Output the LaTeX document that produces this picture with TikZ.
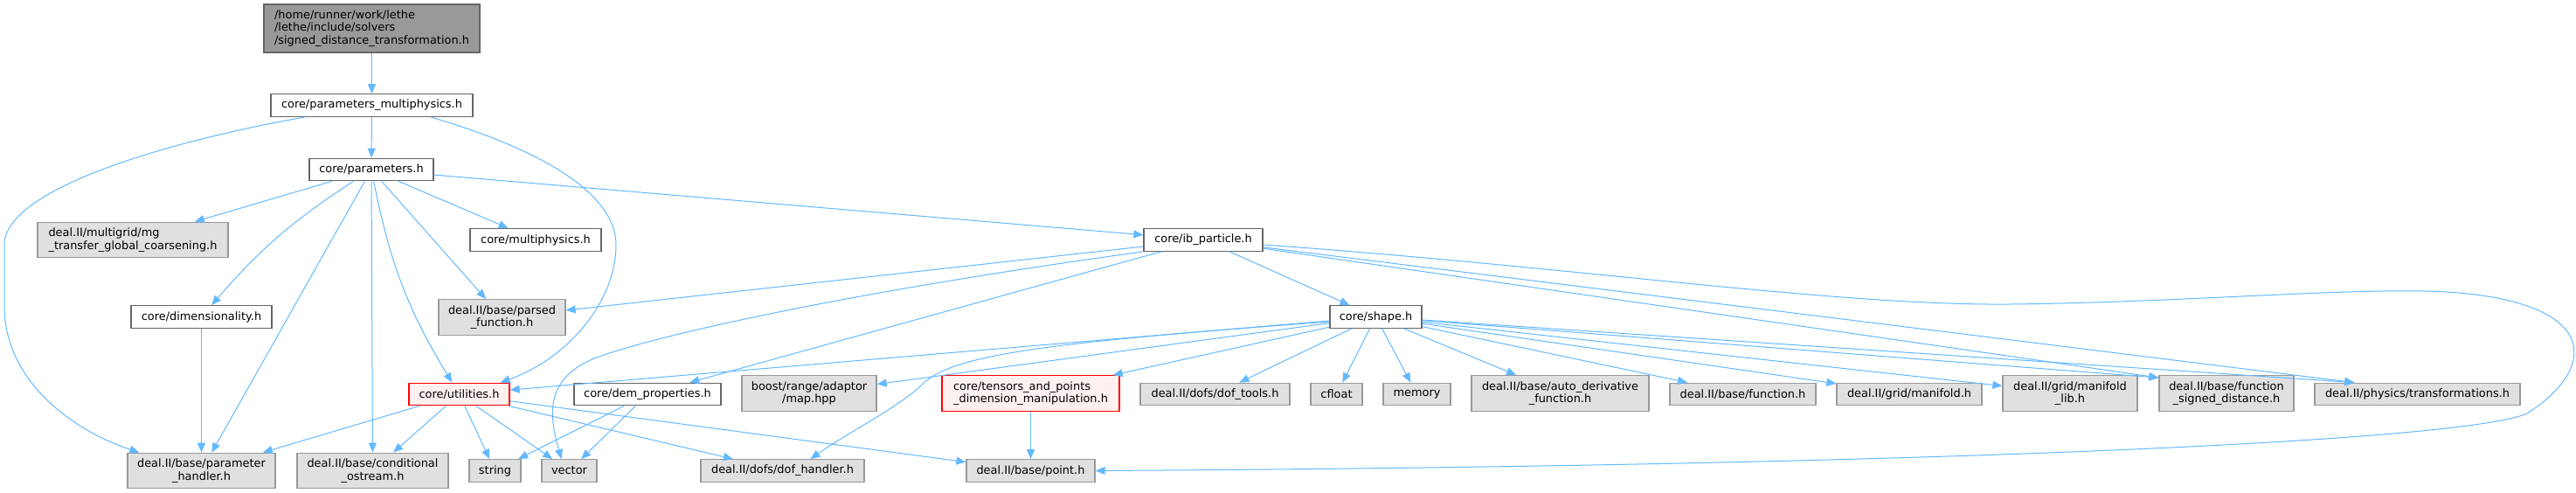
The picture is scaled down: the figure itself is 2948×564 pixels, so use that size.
\documentclass[tikz,border=0pt]{standalone}
\usepackage{fontspec}
\setmainfont{DejaVu Sans}
\usetikzlibrary{arrows.meta}

\definecolor{edgeblue}{HTML}{63B8FF}
\definecolor{boxgray}{HTML}{E0E0E0}
\definecolor{linegray}{HTML}{999999}
\definecolor{framegray}{HTML}{666666}
\definecolor{pinkfill}{HTML}{FFF0F0}

\begin{document}
\begin{tikzpicture}[
    x=1pt, y=-1pt,
    font=\fontsize{12.9}{14.4}\selectfont,
    box/.style={draw, line width=1.3pt, inner sep=0pt, minimum height=25.5pt, align=center},
    incfile/.style={box, draw=framegray, fill=white},
    extfile/.style={box, draw=linegray, fill=boxgray},
    trunc/.style={box, draw=red, fill=pinkfill},
    mainfile/.style={box, draw=framegray, fill=linegray, align=left, minimum height=55pt},
    dep/.style={draw=edgeblue, line width=1pt, -{Triangle[length=11pt,width=9pt]}}
]
    \useasboundingbox (0,0) rectangle (2948,564);

    % Fichero principal
    \node[mainfile, minimum width=247pt] (root) at (425.5,32.5)
        {/home/runner/work/lethe\\/lethe/include/solvers\\/signed\_distance\_transformation.h};

    % Cabeceras del proyecto
    \node[incfile, minimum width=231pt] (pm) at (425.5,120.5) {core/parameters\_multiphysics.h};
    \node[incfile, minimum width=142pt] (par) at (425,194) {core/parameters.h};
    \node[incfile, minimum width=150pt] (mphys) at (613,274.5) {core/multiphysics.h};
    \node[incfile, minimum width=136pt] (ib) at (1377,274.5) {core/ib\_particle.h};
    \node[incfile, minimum width=161pt] (dim) at (230.5,362.5) {core/dimensionality.h};
    \node[incfile, minimum width=105pt] (shape) at (1574.5,362.5) {core/shape.h};
    \node[trunc, minimum width=115pt] (util) at (525.5,451) {core/utilities.h};
    \node[incfile, minimum width=168pt] (dem) at (741,451) {core/dem\_properties.h};
    \node[trunc, minimum width=203pt, minimum height=40.5pt, align=left] (tensors) at (1179.5,450)
        {core/tensors\_and\_points\\\_dimension\_manipulation.h};

    % Cabeceras externas
    \node[extfile, minimum width=218pt, minimum height=40.5pt, align=left] (mg) at (152,274.5)
        {deal.II/multigrid/mg\\\_transfer\_global\_coarsening.h};
    \node[extfile, minimum width=145pt, minimum height=40.5pt] (parsed) at (574.5,363) {deal.II/base/parsed\\\_function.h};
    \node[extfile, minimum width=154pt, minimum height=40.5pt] (boost) at (926,450) {boost/range/adaptor\\/map.hpp};
    \node[extfile, minimum width=171pt] (doftools) at (1390.5,451) {deal.II/dofs/dof\_tools.h};
    \node[extfile, minimum width=59pt] (cfloat) at (1529.5,451) {cfloat};
    \node[extfile, minimum width=77pt] (memory) at (1621.5,451) {memory};
    \node[extfile, minimum width=203pt, minimum height=40.5pt] (autoderiv) at (1785.5,450) {deal.II/base/auto\_derivative\\\_function.h};
    \node[extfile, minimum width=167pt] (func) at (1994.5,451) {deal.II/base/function.h};
    \node[extfile, minimum width=166pt] (manifold) at (2185,451) {deal.II/grid/manifold.h};
    \node[extfile, minimum width=154pt, minimum height=40.5pt] (manifoldlib) at (2369,450) {deal.II/grid/manifold\\\_lib.h};
    \node[extfile, minimum width=154pt, minimum height=40.5pt] (sd) at (2548,450) {deal.II/base/function\\\_signed\_distance.h};
    \node[extfile, minimum width=235pt] (transf) at (2766.5,451) {deal.II/physics/transformations.h};
    \node[extfile, minimum width=169pt, minimum height=40.5pt] (parhandler) at (230.5,538.5) {deal.II/base/parameter\\\_handler.h};
    \node[extfile, minimum width=173pt, minimum height=40.5pt] (condostream) at (426.5,538.5) {deal.II/base/conditional\\\_ostream.h};
    \node[extfile, minimum width=59pt] (string) at (566.5,538.5) {string};
    \node[extfile, minimum width=63pt] (vector) at (651.5,538.5) {vector};
    \node[extfile, minimum width=187pt] (dofhandler) at (895.5,538.5) {deal.II/dofs/dof\_handler.h};
    \node[extfile, minimum width=147pt] (point) at (1179.5,538.5) {deal.II/base/point.h};

    % Dependencias
    \draw[dep] (root) -- (pm);
    \draw[dep] (pm) -- (par);
    \draw[dep] ([xshift=40pt]pm.south west) .. controls (200,160) and (5,215) .. (5,280)
        -- (5,350) .. controls (5,440) and (90,495) .. ([xshift=14pt]parhandler.north west);
    \draw[dep] ([xshift=-49pt]pm.south east) .. controls (600,165) and (705,215) .. (705,280)
        .. controls (705,345) and (650,410) .. ([xshift=-11pt]util.north east);

    \foreach \dst in {mg,parhandler,condostream,parsed,mphys,ib}
        \draw[dep] (par) -- (\dst);
    \draw[dep] (par) to[bend right=8] (dim);
    \draw[dep] (par) to[bend right=10] (util);
    \draw[dep] (dim) -- (parhandler);

    \foreach \dst in {parsed,dem,shape}
        \draw[dep] (ib) -- (\dst);
    \draw[dep] (ib) -- ([yshift=-3pt]sd.north west);
    \draw[dep] (ib) -- ([xshift=46pt]transf.north west);
    \draw[dep] (ib.south west) .. controls (1000,330) and (760,380) .. (680,410)
        .. controls (620,435) and (630,480) .. ([xshift=-9pt]vector.north);
    \draw[dep] ([yshift=-5.5pt]ib.east) .. controls (1800,305) and (2100,350) .. (2300,348)
        .. controls (2500,346) and (2700,328) .. (2800,334)
        .. controls (2975,345) and (2975,420) .. (2892,473)
        .. controls (2820,505) and (2200,533) .. (point.east);

    \foreach \dst in {util,boost,tensors,doftools,cfloat,memory,autoderiv,func,manifold,manifoldlib}
        \draw[dep] (shape) -- (\dst);
    \draw[dep] (shape) -- ([yshift=-3pt]sd.north west);
    \draw[dep] (shape) -- ([xshift=46pt]transf.north west);
    \draw[dep] ([yshift=-5.5pt]shape.west) .. controls (1200,392) and (1090,405) .. (1055,440)
        .. controls (1030,465) and (970,495) .. ([xshift=32pt]dofhandler.north);

    \foreach \dst in {parhandler,condostream,string,vector,dofhandler,point}
        \draw[dep] (util) -- (\dst);
    \draw[dep] (dem) -- (string);
    \draw[dep] (dem) -- (vector);
    \draw[dep] (tensors) -- (point);
\end{tikzpicture}
\end{document}
